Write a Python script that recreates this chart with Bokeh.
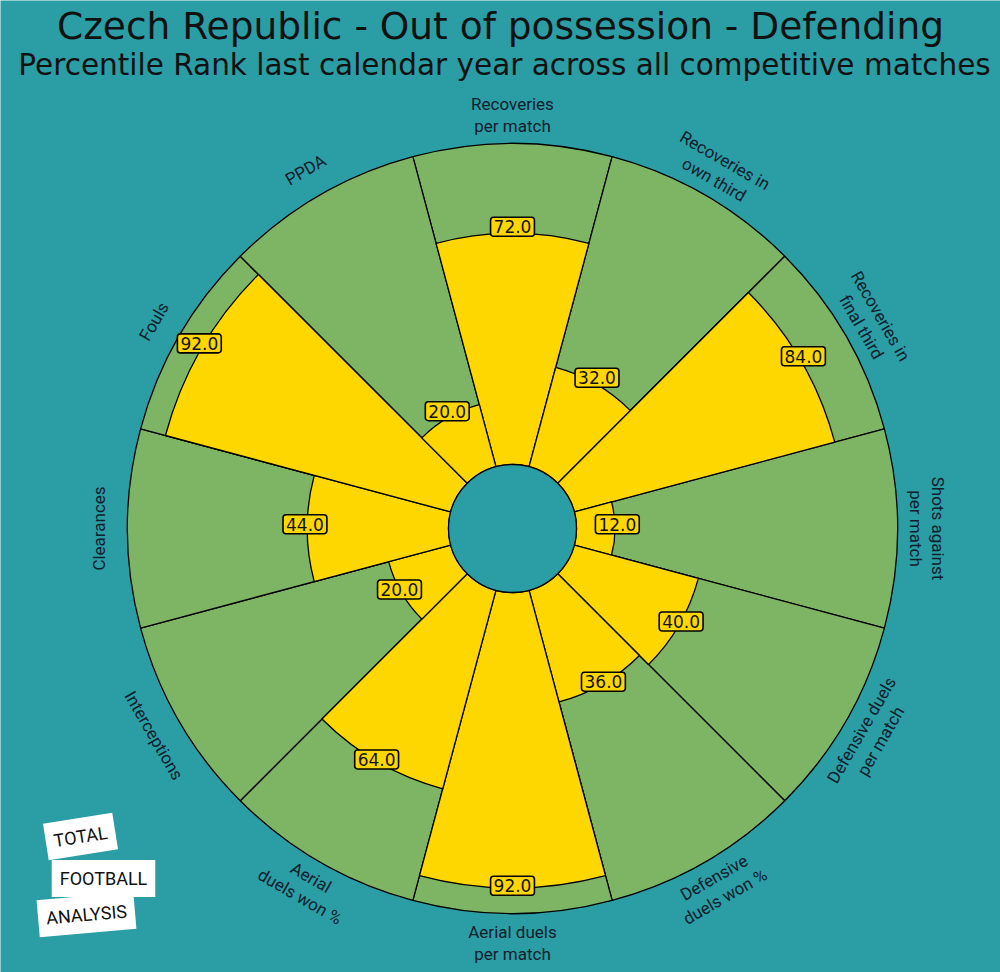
import numpy as np
from bokeh.plotting import figure
from bokeh.models import ColumnDataSource, Range1d
from bokeh.core.properties import value
from bokeh.embed import file_html
from bokeh.resources import INLINE

# ---- data ----
params = ["Recoveries\nper match", "Recoveries in\nown third", "Recoveries in\nfinal third",
          "Shots against\nper match", "Defensive duels\nper match", "Defensive\nduels won %",
          "Aerial duels\nper match", "Aerial\nduels won %", "Interceptions", "Clearances",
          "Fouls", "PPDA"]
values = [72, 32, 84, 12, 40, 36, 92, 64, 20, 44, 92, 20]
title = "Czech Republic - Out of possession - Defending"
subtitle = "Percentile Rank last calendar year across all competitive matches"
logo_words = ["TOTAL", "FOOTBALL", "ANALYSIS"]

# ---- style / layout ----
W, H = 1000, 972
BG = "#2b9da5"
GREEN = "#7db565"
YELLOW = "#ffd700"
CX, CY = 512, H - 528
R0, R1 = 64, 385
R_LABEL = 414

def rad(v):
    return R0 + (R1 - R0) * v / 100.0

n = len(params)
centers = np.deg2rad(90 - 30 * np.arange(n))
starts = centers - np.deg2rad(15)
ends = centers + np.deg2rad(15)

p = figure(width=W, height=H, x_range=Range1d(0, W), y_range=Range1d(0, H),
           output_backend="svg", toolbar_location=None, min_border=0,
           background_fill_color=BG, border_fill_color=BG, outline_line_color=None)
p.axis.visible = False
p.grid.visible = False

src = ColumnDataSource(dict(
    start=starts, end=ends,
    outer=[R1] * n, vr=[rad(v) for v in values],
))
p.annular_wedge(x=CX, y=CY, inner_radius=R0, outer_radius="outer", start_angle="start",
                end_angle="end", source=src, fill_color=GREEN, line_color="black", line_width=1.3)
p.annular_wedge(x=CX, y=CY, inner_radius=R0, outer_radius="vr", start_angle="start",
                end_angle="end", source=src, fill_color=YELLOW, line_color="black", line_width=1.3)
p.circle(x=[CX], y=[CY], radius=R0, fill_color=BG, line_color="black", line_width=1.3)

# parameter labels
deg = np.rad2deg(centers)
deg = (deg + 180) % 360 - 180
rot = np.where((deg >= 0) & (deg <= 180), deg - 90, deg + 90)
rot = np.where(np.isclose(np.abs(deg), 180), 90, rot)
lab = ColumnDataSource(dict(
    x=CX + R_LABEL * np.cos(centers), y=CY + R_LABEL * np.sin(centers),
    t=params, a=np.deg2rad(rot)))
p.text(x="x", y="y", text="t", angle="a", source=lab, text_align="center",
       text_baseline="middle", text_font=value("Roboto"), text_font_size="17px",
       text_color="#10202c", text_line_height=1.1)

# value boxes
vl = ColumnDataSource(dict(
    x=[CX + (rad(v) + 2.3) * np.cos(c) for v, c in zip(values, centers)],
    y=[CY + (rad(v) + 2.3) * np.sin(c) + 4.3 for v, c in zip(values, centers)],
    t=[f"{v:.1f}" for v in values]))
p.text(x="x", y="y", text="t", source=vl, text_align="center", text_baseline="middle",
       text_font=value("DejaVu Sans"), text_font_size="17px", text_color="#111111",
       background_fill_color=YELLOW, border_line_color="black", border_line_width=1.6,
       padding=3, border_radius=3)

# titles
p.text(x=[W / 2], y=[H - 25], text=[title], text_align="center", text_baseline="middle",
       text_font=value("DejaVu Sans"), text_font_size="37.5px", text_color="#111111")
p.text(x=[W / 2 + 4], y=[H - 64], text=[subtitle], text_align="center", text_baseline="middle",
       text_font=value("DejaVu Sans"), text_font_size="29.5px", text_color="#111111")

# logo
lg = ColumnDataSource(dict(x=[80, 103, 86], y=[H - 836, H - 878, H - 914], t=logo_words,
                           a=np.deg2rad([9, 0, 5])))
p.text(x="x", y="y", text="t", angle="a", source=lg, text_align="center",
       text_baseline="middle", text_font=value("Roboto"), text_font_size="18px",
       text_color="#111111", background_fill_color="white", padding=8)

open("out.html", "w").write(file_html(p, INLINE))
